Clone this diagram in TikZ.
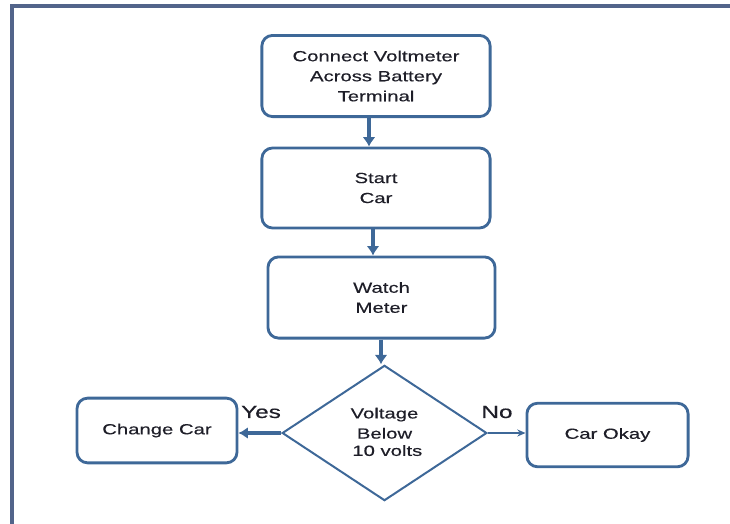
\documentclass[tikz,border=0pt]{standalone}
\usepackage{fontspec}
\setmainfont{Liberation Sans}[FakeStretch=1.38,FakeBold=0.4]
\usepackage{xcolor}
\usepackage{tikz}
\usetikzlibrary{arrows.meta,positioning,shapes.geometric}
\definecolor{boxblue}{RGB}{62,104,152}
\definecolor{framec}{RGB}{82,100,138}
\definecolor{txt}{RGB}{30,30,40}

\begin{document}
\begin{tikzpicture}[x=0.85pt,y=-0.85pt,>=Latex,
    font=\fontsize{12.5}{17}\selectfont,text=txt,
    stepbox/.style={draw=boxblue,line width=2.4pt,rounded corners=9pt,
                    align=center,inner sep=0pt},
    decide/.style={diamond,draw=boxblue,line width=1.7pt,aspect=1.5,
                   minimum width=174pt,minimum height=115pt,align=center,inner sep=0pt},
    flow/.style={->,draw=boxblue,line width=3.3pt,>={Latex[length=8pt,width=11pt]}},
    answer/.style={font=\fontsize{15}{18}\selectfont}]
  \useasboundingbox (0,0) rectangle (730,524);
  % frame
  \draw[framec,line width=2.6pt] (12,524)--(12,6)--(730,6);
  % steps
  \node[stepbox,minimum width=194pt,minimum height=69pt] (connect) at (376,76)
       {Connect Voltmeter\\Across Battery\\Terminal};
  \node[stepbox,minimum width=194pt,minimum height=68pt] (start) at (376,188)
       {Start\\Car};
  \node[stepbox,minimum width=193pt,minimum height=69pt] (watch) at (381.5,297.5)
       {Watch\\Meter};
  \node[decide] (volt) at (384.5,433) {\raisebox{2pt}{\shortstack{Voltage\\[2.5pt]Below\\[2.5pt]\ 10 volts}}};
  \node[stepbox,minimum width=136pt,minimum height=55pt] (change) at (157,430.5)
       {\raisebox{1.5pt}{Change Car}};
  \node[stepbox,minimum width=137pt,minimum height=54pt] (okay) at (607.5,435)
       {Car Okay};
  % connectors
  \draw[flow] (connect.south -| 369,0) -- (start.north -| 369,0);
  \draw[flow] (start.south -| 373,0) -- (watch.north -| 373,0);
  \draw[flow] (watch.south -| 381,0) -- (volt.north -| 381,0);
  \draw[flow,line width=2.6pt,>={Latex[length=8pt,width=10pt]}]
       (volt.west) -- (change.east |- volt.west);
  \draw[->,boxblue,line width=1pt,>={Stealth[length=7pt,width=6pt]}]
       (volt.east) -- (okay.west |- volt.east);
  \node[answer] (yes) at (261,412) {Yes};
  \node[answer] (no) at (497,412) {No};
\end{tikzpicture}
\end{document}
